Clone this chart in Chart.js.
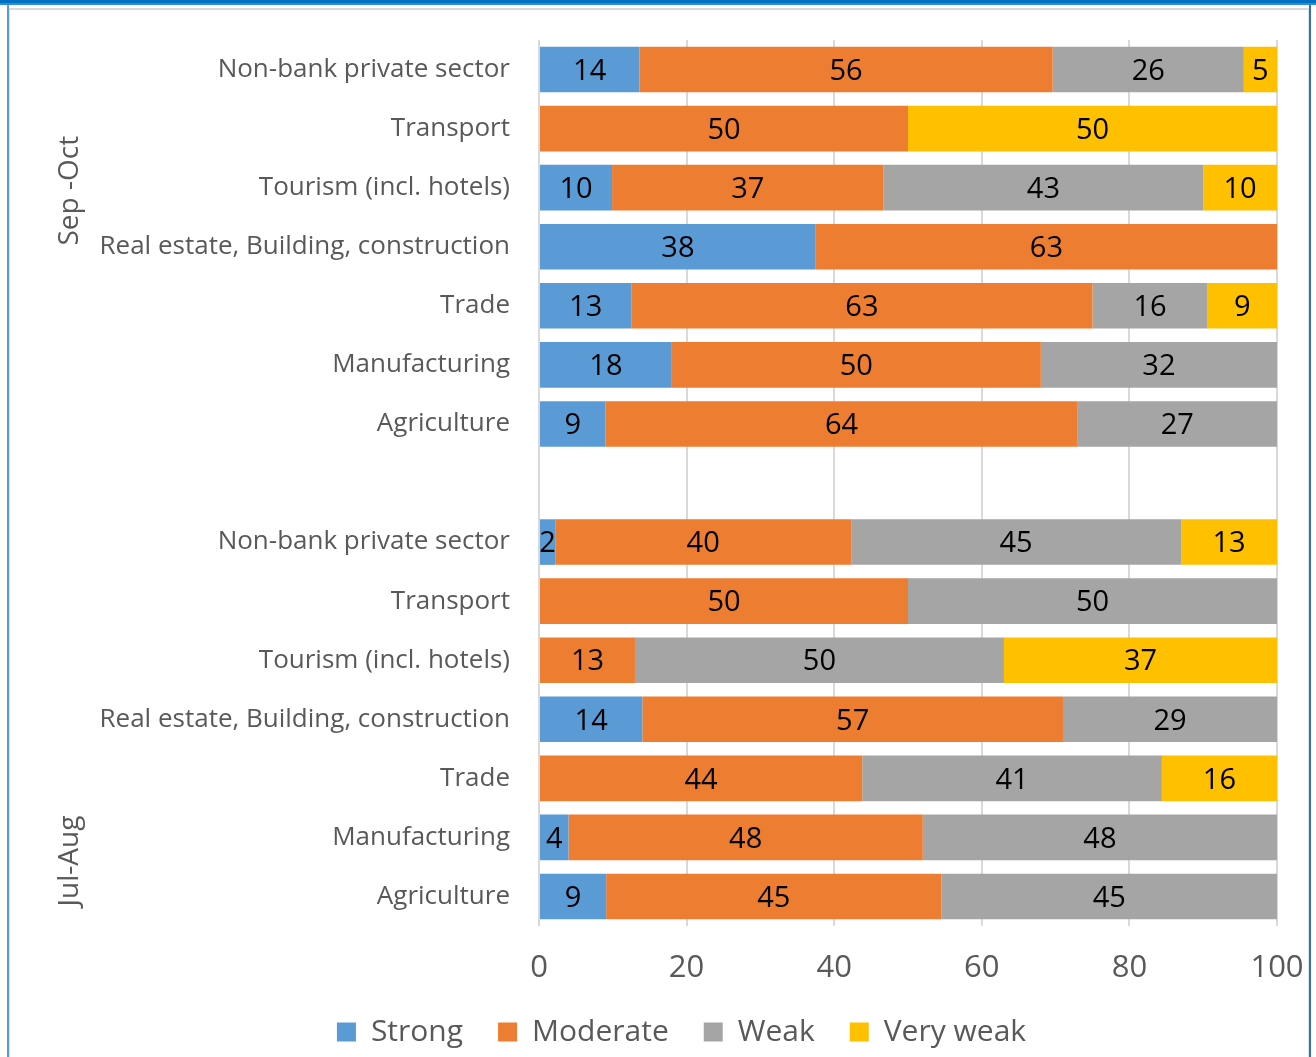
<!DOCTYPE html>
<html>
<head>
<meta charset="utf-8">
<script src="https://cdn.jsdelivr.net/npm/chart.js@4.4.1/dist/chart.umd.min.js"></script>
<style>
  html, body { margin: 0; padding: 0; background: #fff; }
  #wrap { position: relative; width: 1316px; height: 1057px; overflow: hidden; }
  #topbar { position: absolute; left: 0; top: 0; width: 1316px; height: 3px; background: #0070c0; }
  #topbar2 { position: absolute; left: 0; top: 3px; width: 1316px; height: 2px; background: #2e8bd3; }
  #frame { position: absolute; left: 7px; top: 5px; width: 1300px; height: 1100px;
           border-left: 2px solid #5b9bd5; border-right: 2px solid #2e75b6; }
  #inner { position: absolute; left: 9px; top: 8px; width: 1298px; height: 1100px;
           border-top: 2px solid #d9d9d9; border-left: 1px solid #e0e0e0; border-right: 1px solid #e0e0e0; }
  canvas { position: absolute; left: 0; top: 0; }
</style>
</head>
<body>
<div id="wrap">
  <div id="topbar"></div>
  <div id="topbar2"></div>
  <div id="frame"></div>
  <div id="inner"></div>
  <canvas id="chart" width="1316" height="1057"></canvas>
</div>
<script>
// rows top to bottom, blank row separates the two periods
const categories = [
  'Non-bank private sector', 'Transport', 'Tourism (incl. hotels)',
  'Real estate, Building, construction', 'Trade', 'Manufacturing', 'Agriculture',
  '',
  'Non-bank private sector', 'Transport', 'Tourism (incl. hotels)',
  'Real estate, Building, construction', 'Trade', 'Manufacturing', 'Agriculture'
];
const periods = ['Sep -Oct', 'Jul-Aug'];
// shares in % (labels show them rounded)
const strong   = [13.6, 0, 9.9, 37.5, 12.5, 18, 9,  null, 2.2, 0, 0, 14, 0, 4, 9.1];
const moderate = [56, 50, 36.8, 62.5, 62.5, 50, 64, null, 40.1, 50, 13, 57, 43.8, 48, 45.45];
const weak     = [25.9, 0, 43.3, 0, 15.6, 32, 27, null, 44.7, 50, 50, 29, 40.6, 48, 45.45];
const veryWeak = [4.5, 50, 10, 0, 9.4, 0, 0,  null, 13, 0, 37, 0, 15.6, 0, 0];
const xTicks = [0, 20, 40, 60, 80, 100];

const font = '"Open Sans", sans-serif';

// value labels in the middle of each visible segment
const valueLabels = {
  id: 'valueLabels',
  afterDatasetsDraw(chart) {
    const { ctx, chartArea } = chart;
    ctx.save();
    ctx.font = '29px ' + font;
    ctx.fillStyle = '#000';
    ctx.textAlign = 'center';
    ctx.textBaseline = 'middle';
    chart.data.datasets.forEach((ds, i) => {
      chart.getDatasetMeta(i).data.forEach((bar, j) => {
        const v = ds.data[j];
        if (!v) return;
        const left = Math.min(bar.base, bar.x);
        const right = Math.min(Math.max(bar.base, bar.x), chartArea.right);
        ctx.fillText(String(Math.round(v)), (left + right) / 2, bar.y + 2);
      });
    });
    ctx.restore();
  }
};

// rotated period labels on the far left
const periodLabels = {
  id: 'periodLabels',
  afterDraw(chart) {
    const { ctx } = chart;
    const y = chart.scales.y;
    const spots = [y.getPixelForValue(2) + 3, y.getPixelForValue(13.4)];
    ctx.save();
    ctx.font = '28px ' + font;
    ctx.fillStyle = '#595959';
    ctx.textAlign = 'center';
    ctx.textBaseline = 'middle';
    periods.forEach((p, i) => {
      ctx.save();
      ctx.translate(70, spots[i]);
      ctx.rotate(-Math.PI / 2);
      ctx.fillText(p, 0, 0);
      ctx.restore();
    });
    ctx.restore();
  }
};

new Chart(document.getElementById('chart'), {
  type: 'bar',
  data: {
    labels: categories,
    datasets: [
      { label: 'Strong', data: strong, backgroundColor: '#5b9bd5' },
      { label: 'Moderate', data: moderate, backgroundColor: '#ed7d31' },
      { label: 'Weak', data: weak, backgroundColor: '#a5a5a5' },
      { label: 'Very weak', data: veryWeak, backgroundColor: '#ffc000' }
    ]
  },
  options: {
    indexAxis: 'y',
    responsive: false,
    animation: false,
    categoryPercentage: 0.772,
    barPercentage: 1,
    layout: { padding: { top: 40, right: 39, left: 86, bottom: 0 } },
    scales: {
      y: {
        stacked: true,
        grid: { display: false, drawTicks: false },
        border: { display: false },
        ticks: { padding: 29, color: '#595959', font: { family: font, size: 26 } },
        afterFit(scale) {
          scale.width = 453;
          scale.paddingTop = 0;
          scale.paddingBottom = 0;
        }
      },
      x: {
        stacked: true,
        min: 0,
        max: 100,
        afterBuildTicks(scale) { scale.ticks = xTicks.map(v => ({ value: v })); },
        grid: { color: '#d9d9d9', lineWidth: 2, tickLength: 0 },
        border: { display: false },
        ticks: { padding: 24, color: '#595959', font: { family: font, size: 31 } },
        afterFit(scale) {
          scale.height = 56;
          scale.paddingLeft = 0;
          scale.paddingRight = 0;
        }
      }
    },
    plugins: {
      legend: {
        position: 'bottom',
        labels: {
          boxWidth: 19,
          boxHeight: 19,
          padding: 35,
          color: '#595959',
          font: { family: font, size: 30 }
        }
      },
      tooltip: { enabled: false }
    }
  },
  plugins: [valueLabels, periodLabels]
});
</script>
</body>
</html>
